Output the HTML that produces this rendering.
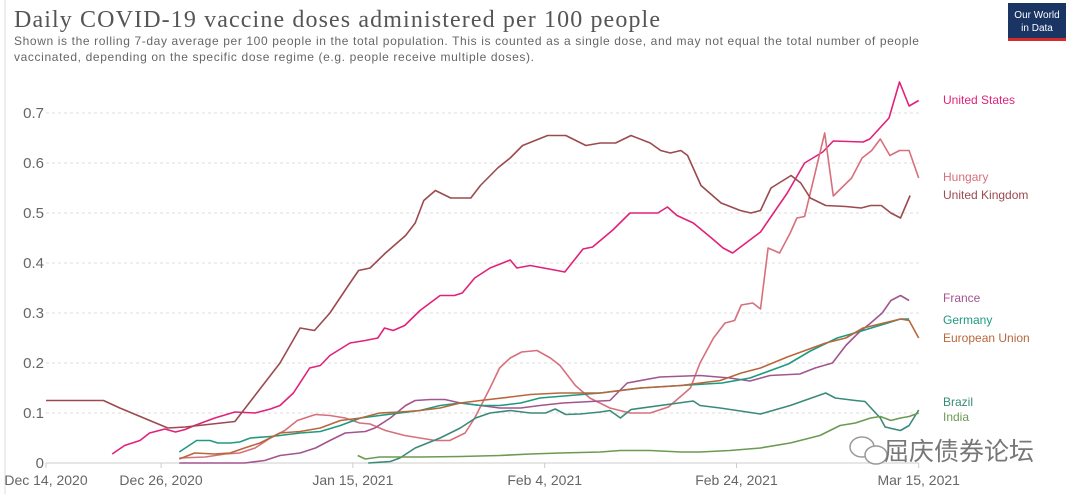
<!DOCTYPE html>
<html><head><meta charset="utf-8">
<style>
body{margin:0;background:#fff;width:1080px;height:494px;overflow:hidden;font-family:"Liberation Sans",sans-serif}
svg text{font-family:"Liberation Sans","Noto Sans CJK SC",sans-serif}
</style></head>
<body>
<svg id="chart" width="1080" height="494" viewBox="0 0 1080 494" xmlns="http://www.w3.org/2000/svg">
<line x1="5" y1="0" x2="5" y2="494" stroke="#ddd"/>
<text x="14" y="27" font-size="24" fill="#555" style="font-family:'Liberation Serif',serif" textLength="646">Daily COVID-19 vaccine doses administered per 100 people</text>
<text x="14" y="45" font-size="12" fill="#666" textLength="905">Shown is the rolling 7-day average per 100 people in the total population. This is counted as a single dose, and may not equal the total number of people</text>
<text x="14" y="61" font-size="12" fill="#666" textLength="520">vaccinated, depending on the specific dose regime (e.g. people receive multiple doses).</text>
<g>
<rect x="1008" y="3" width="58" height="35" fill="#1a3463"/>
<rect x="1008" y="38" width="58" height="3" fill="#d42b2b"/>
<text x="1037" y="18" font-size="10" fill="#fff" text-anchor="middle">Our World</text>
<text x="1037" y="31" font-size="10" fill="#fff" text-anchor="middle">in Data</text>
</g>
<g id="grid"></g>
<g id="axes"></g>
<g id="series"></g>
<g id="labels"></g>
<g>
<ellipse cx="862" cy="447" rx="12" ry="10" fill="none" stroke="#999" stroke-width="1.5"/>
<ellipse cx="876" cy="455" rx="11" ry="9" fill="#fff" stroke="#999" stroke-width="1.5"/>
<text x="884" y="460" font-size="25" fill="#777" style="font-family:'Noto Sans CJK SC',sans-serif">屈庆债券论坛</text>
</g>
</svg>
<script>
const yTicks=[0,0.1,0.2,0.3,0.4,0.5,0.6,0.7];
const yTickLabels=["0","0.1","0.2","0.3","0.4","0.5","0.6","0.7"];
const xTickDays=[0,12,32,52,72,91];
const xTickLabels=["Dec 14, 2020","Dec 26, 2020","Jan 15, 2021","Feb 4, 2021","Feb 24, 2021","Mar 15, 2021"];
const seriesNames=["United States","Hungary","United Kingdom","France","Germany","European Union","Brazil","India"];
const seriesColors=["#e0227a","#d7707c","#9b4a4e","#a2558e","#1f9a80","#b8673c","#3a8a7a","#6b9a52"];
const usDays=[6.9,8.2,9.8,10.8,12.4,13.5,14.5,15.5,17.6,19.7,21.8,23.4,24.4,25.8,27.5,28.6,29.6,31.7,33.3,34.6,35.3,36.2,37.4,39,41.1,42.6,43.4,44.7,46.3,48.4,49.1,50.5,53.3,54.1,56,57,59.1,60.9,63.8,64.8,65.8,67.5,69.4,70.6,71.6,74.5,77.3,79.1,81,82.1,85.2,85.9,87.9,89,90,91];
const usVals=[.018,.035,.045,.06,.068,.062,.067,.075,.09,.102,.1,.108,.115,.14,.19,.195,.215,.24,.245,.25,.27,.265,.275,.305,.335,.335,.34,.37,.39,.406,.39,.395,.385,.382,.428,.432,.466,.5,.5,.512,.495,.48,.45,.43,.42,.462,.54,.6,.622,.644,.642,.648,.69,.762,.714,.725];
const huDays=[13.9,16.6,18.7,20.2,21.8,23.4,24.9,26.2,28.1,29.6,31.2,32.7,33.8,35.4,37.4,39,40.6,42.1,43.7,44.7,46.3,47.3,48.4,49.6,51.2,52.6,53.6,55.2,56.7,58.8,60.9,63,64.9,67.2,68.2,69.6,70.8,71.8,72.5,73.7,74.5,75.3,76.5,77.6,78.3,79.1,80.2,81.2,82.1,84,85.1,86.1,87,88,89,90,91];
const huVals=[.01,.012,.018,.02,.03,.05,.065,.085,.097,.095,.09,.08,.078,.065,.055,.05,.045,.045,.06,.09,.15,.19,.21,.222,.225,.21,.195,.155,.13,.11,.1,.1,.112,.15,.2,.25,.28,.285,.316,.32,.308,.43,.42,.46,.49,.493,.58,.66,.534,.57,.61,.625,.648,.615,.625,.625,.57];
const ukDays=[0,6,7.7,12.7,14.5,19.7,24.4,26.5,28,29.6,31.7,32.6,33.8,35.4,37.5,38.5,39.4,40.6,42.2,44.3,45.3,47.1,48.4,49.7,52.3,54.2,56.3,57.8,59.4,61,63,64.1,65.1,66.2,66.9,68.3,70.4,72.4,73.5,74.5,75.6,77.7,78.7,79.7,81.3,83.4,85,86,87.1,88.1,89.1,90.1];
const ukVals=[.125,.125,.11,.07,.072,.083,.2,.27,.265,.3,.36,.385,.39,.42,.455,.48,.525,.545,.53,.53,.555,.59,.61,.635,.655,.655,.635,.64,.64,.655,.64,.625,.62,.625,.615,.555,.52,.505,.5,.505,.55,.575,.56,.53,.515,.513,.51,.515,.515,.5,.49,.535];
const frDays=[13.9,20.7,22.8,24.4,26.5,28.1,29.6,31.2,33.3,34.3,35.9,37.5,38.5,40.1,41.6,43.2,45.3,47.3,49.5,51.5,53.9,58.8,60.6,64,68.2,71.3,73.4,75.5,78.6,80.2,82,83.4,84.7,86,87.2,88.1,89.1,90];
const frVals=[0,0,.005,.015,.02,.03,.045,.06,.063,.07,.09,.115,.125,.127,.127,.12,.115,.11,.11,.115,.12,.125,.16,.172,.175,.17,.164,.175,.178,.19,.2,.235,.26,.28,.3,.325,.335,.325];
const deDays=[13.9,15.7,17.1,17.9,19.2,20.2,21.3,23.4,24.4,26.5,28.6,30.7,32.8,34.8,36.9,39,41.1,43.2,45.3,47.3,49.5,51.5,57.8,62,66.2,70.5,73.4,77.4,79.7,82.5,85.2,89.1,90];
const deVals=[.022,.045,.045,.04,.04,.042,.05,.053,.055,.06,.063,.075,.09,.095,.1,.105,.115,.12,.115,.115,.12,.13,.14,.15,.155,.16,.17,.198,.224,.25,.265,.288,.288];
const euDays=[13.9,15.5,17.6,19.2,20.7,22.3,24.4,26.5,28.6,30.7,32.8,34.8,36.9,39,41.1,43.2,45.3,48.4,50.5,53.6,57.8,62,66.2,70.3,72.5,74.5,77.3,81.3,83.4,85.2,89.1,90,91];
const euVals=[.008,.02,.018,.02,.03,.04,.06,.063,.07,.085,.09,.1,.102,.105,.11,.12,.125,.132,.137,.14,.14,.15,.155,.165,.18,.19,.212,.24,.25,.27,.288,.285,.25];
const brDays=[33.6,35.9,36.9,38.5,41.1,43.2,44.8,46.3,48.4,50.5,52.1,53.1,54.2,55.7,57.8,58.8,59.9,61,67.5,68.2,70.3,74.5,77.6,81.3,82.3,84.4,85.4,87,87.5,89.1,90,91];
const brVals=[0,.003,.01,.03,.05,.07,.09,.1,.105,.1,.1,.108,.097,.098,.102,.105,.09,.107,.124,.115,.11,.098,.115,.14,.13,.125,.123,.09,.072,.065,.075,.106];
const inDays=[32.5,33.3,34.8,39,43.2,47.3,50.5,53.6,57.8,59.9,63,66.2,68.2,71.3,74.5,77.6,80.7,82.8,84.4,86,87,88.1,89.1,90,91];
const inVals=[.015,.008,.012,.012,.013,.015,.018,.02,.022,.025,.025,.022,.022,.025,.03,.04,.055,.075,.08,.09,.093,.085,.09,.093,.1];
const seriesDays=[usDays,huDays,ukDays,frDays,deDays,euDays,brDays,inDays];
const seriesVals=[usVals,huVals,ukVals,frVals,deVals,euVals,brVals,inVals];
const labelYs=[100,177,195,298,320,338,402,417];

const NS="http://www.w3.org/2000/svg";
const X0=46,PXD=9.59,Y0=463,PXV=500;
function xs(d){return X0+d*PXD;}
function ys(v){return Y0-v*PXV;}
function mk(tag,attrs,parent){const e=document.createElementNS(NS,tag);for(const k in attrs)e.setAttribute(k,attrs[k]);parent.appendChild(e);return e;}
const grid=document.getElementById('grid'),axes=document.getElementById('axes'),ser=document.getElementById('series'),lab=document.getElementById('labels');
yTicks.forEach((v,i)=>{
  if(v>0){const l=mk('line',{x1:X0,x2:xs(91),y1:ys(v),y2:ys(v),stroke:'#ddd','stroke-dasharray':'3,3'},grid);
  
  }
  const t=mk('text',{x:44,y:ys(v)+5,'font-size':15,fill:'#666','text-anchor':'end'},axes);
  t.textContent=yTickLabels[i];
  
  
});
const base=mk('line',{x1:X0,x2:xs(91),y1:Y0,y2:Y0,stroke:'#ccc'},axes);


xTickDays.forEach((d,i)=>{
  const tk=mk('line',{x1:xs(d),x2:xs(d),y1:Y0,y2:Y0+5,stroke:'#ccc'},axes);
  
  
  const t=mk('text',{x:xs(d),y:485,'font-size':14,fill:'#666','text-anchor':'middle'},axes);
  t.textContent=xTickLabels[i];
  
  
});
seriesNames.forEach((n,i)=>{
  const pts=seriesDays[i].map((d,j)=>xs(d).toFixed(1)+','+ys(seriesVals[i][j]).toFixed(1)).join(' ');
  const p=mk('polyline',{points:pts,fill:'none',stroke:seriesColors[i],'stroke-width':1.6,'stroke-linejoin':'round'},ser);
  
  
  const t=mk('text',{x:943,y:labelYs[i]+4,'font-size':12,fill:seriesColors[i]},lab);
  t.textContent=n;
  
  
});
</script>
</body></html>
